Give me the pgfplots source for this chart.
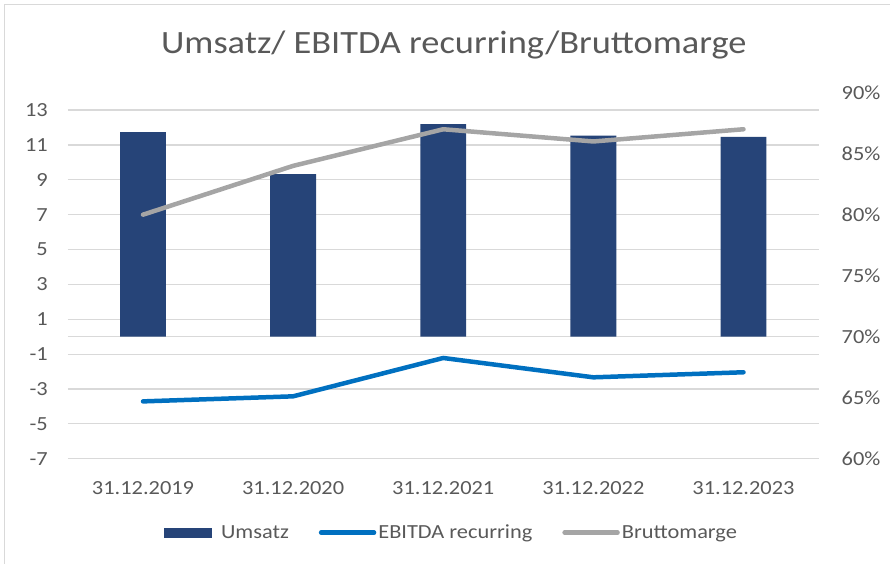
\documentclass[border=0pt]{standalone}
\usepackage{fontspec}
\setmainfont{Carlito}[FakeStretch=1.12]
\usepackage{pgfplots}
\pgfplotsset{compat=1.18}
\definecolor{barblue}{HTML}{264478}
\definecolor{ebitda}{HTML}{0070C0}
\definecolor{brutto}{HTML}{A5A5A5}
\definecolor{txt}{HTML}{595959}
\definecolor{gridc}{HTML}{D9D9D9}
\begin{document}
\begin{tikzpicture}[x=1pt,y=1pt]
\path (0,0) rectangle (890,564);
\draw[gridc, line width=1pt] (5,0) -- (5,559) -- (890,559);
\node[text=txt, font=\fontsize{32.5}{36}\selectfont] at (454,519) {Umsatz/ EBITDA recurring/Bruttomarge};
\begin{axis}[
  at={(68pt,105pt)}, anchor=south west, scale only axis,
  width=751pt, height=366.3pt,
  xmin=-0.5, xmax=4.5, ymin=-7, ymax=14,
  xtick={0,1,2,3,4},
  xticklabels={31.12.2019,31.12.2020,31.12.2021,31.12.2022,31.12.2023},
  ytick={-7,-5,-3,-1,1,3,5,7,9,11,13},
  yticklabels={-7,-5,-3,-1,1,3,5,7,9,11,13},
  ymajorgrids, grid style={gridc, line width=1.2pt},
  extra y ticks={0}, extra y tick labels={}, extra y tick style={grid=major},
  axis line style={draw=none}, major tick length=0,
  ticklabel style={font=\fontsize{20}{24}\selectfont, text=txt},
  yticklabel style={anchor=east, inner sep=0pt, xshift=-20pt},
  xticklabel style={anchor=base, inner sep=0pt, yshift=-35.5pt},
]
\addplot[ybar, bar width=0.306, fill=barblue, draw=none] coordinates {(0,11.73) (1,9.32) (2,12.19) (3,11.54) (4,11.46)};
\addplot[ebitda, line width=4.5pt, line cap=round, line join=round] coordinates {(0,-3.71) (1,-3.42) (2,-1.22) (3,-2.33) (4,-2.04)};
\end{axis}
\begin{axis}[
  at={(68pt,105pt)}, anchor=south west, scale only axis,
  width=751pt, height=366.3pt,
  xmin=-0.5, xmax=4.5, ymin=60, ymax=90,
  xtick=\empty,
  ytick={60,65,70,75,80,85,90},
  yticklabels={60\%,65\%,70\%,75\%,80\%,85\%,90\%},
  yticklabel pos=right,
  axis line style={draw=none}, major tick length=0,
  ticklabel style={font=\fontsize{20}{24}\selectfont, text=txt},
  yticklabel style={anchor=west, inner sep=0pt, xshift=23pt},
  legend style={at={(0.511,-0.202)}, anchor=center, draw=none, fill=none,
    legend columns=3, font=\fontsize{20}{24}\selectfont, text=txt,
    /tikz/every even column/.append style={column sep=28pt}},
  legend cell align=left,
]
\addlegendimage{legend image code/.code={\path[draw=none,fill=none] (0pt,0pt) -- (55pt,0pt);\fill[barblue,draw=none] (0pt,-5pt) rectangle (48pt,5pt);}}
\addlegendentry{Umsatz}
\addlegendimage{legend image code/.code={\draw[ebitda, line width=4.5pt, line cap=round] (2pt,0) -- (55pt,0);}}
\addlegendentry{EBITDA recurring}
\addplot[brutto, line width=4.5pt, line cap=round, line join=round,
  legend image code/.code={\draw[brutto, line width=4.5pt, line cap=round] (2pt,0) -- (55pt,0);}]
  coordinates {(0,80) (1,84) (2,87) (3,86) (4,87)};
\addlegendentry{Bruttomarge}
\end{axis}
\end{tikzpicture}
\end{document}
